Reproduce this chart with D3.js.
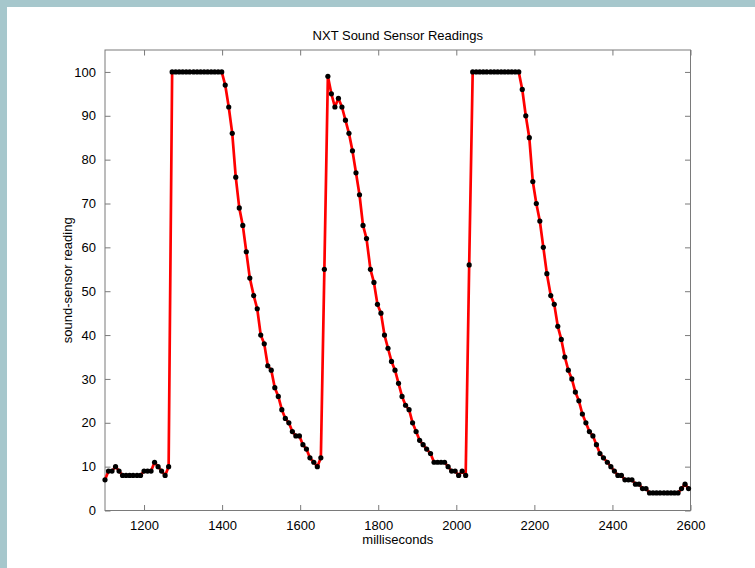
<!DOCTYPE html>
<html>
<head>
<meta charset="utf-8">
<script src="https://cdn.jsdelivr.net/npm/d3@7"></script>
<style>
  html, body { margin: 0; padding: 0; background: #a6c7cc; }
  svg { display: block; }
  text { font-family: "Liberation Sans", Arial, sans-serif; fill: #000; }
</style>
</head>
<body>
<div id="chart"></div>
<script>
// sample times (ms)
var times = [
  1100, 1109, 1118, 1127, 1136, 1145, 1154, 1163, 1172, 1182,
  1191, 1200, 1209, 1218, 1227, 1236, 1245, 1254, 1263, 1272,
  1281, 1290, 1299, 1308, 1317, 1327, 1336, 1345, 1354, 1363,
  1372, 1381, 1390, 1399, 1408, 1417, 1426, 1435, 1444, 1453,
  1462, 1471, 1481, 1490, 1499, 1508, 1517, 1526, 1535, 1544,
  1553, 1562, 1571, 1580, 1589, 1598, 1607, 1616, 1625, 1635,
  1644, 1653, 1662, 1671, 1680, 1689, 1698, 1707, 1716, 1725,
  1734, 1743, 1752, 1761, 1770, 1780, 1789, 1798, 1807, 1816,
  1825, 1834, 1843, 1852, 1861, 1870, 1879, 1888, 1897, 1906,
  1915, 1924, 1934, 1943, 1952, 1961, 1970, 1979, 1988, 1997,
  2006, 2015, 2024, 2033, 2042, 2051, 2060, 2069, 2078, 2088,
  2097, 2106, 2115, 2124, 2133, 2142, 2151, 2160, 2169, 2178,
  2187, 2196, 2205, 2214, 2223, 2232, 2242, 2251, 2260, 2269,
  2278, 2287, 2296, 2305, 2314, 2323, 2332, 2341, 2350, 2359,
  2368, 2377, 2387, 2396, 2405, 2414, 2423, 2432, 2441, 2450,
  2459, 2468, 2477, 2486, 2495, 2504, 2513, 2522, 2532, 2541,
  2550, 2559, 2568, 2577, 2586, 2595
];

// sound sensor readings
var readings = [
  7, 9, 9, 10, 9, 8, 8, 8, 8, 8, 8, 9, 9, 9, 11, 10, 9, 8, 10,
  100, 100, 100, 100, 100, 100, 100, 100, 100, 100, 100, 100, 100, 100, 100,
  97, 92, 86, 76, 69, 65, 59, 53, 49, 46, 40, 38, 33, 32, 28, 26, 23, 21, 20,
  18, 17, 17, 15, 14, 12, 11, 10, 12,
  55, 99, 95, 92, 94, 92, 89, 86, 82, 77, 72, 65, 62, 55, 52, 47, 45, 40, 37,
  34, 32, 29, 26, 24, 23, 20, 18, 16, 15, 14, 13, 11, 11, 11, 11, 10, 9, 9, 8, 9, 8,
  56,
  100, 100, 100, 100, 100, 100, 100, 100, 100, 100, 100, 100, 100, 100,
  96, 90, 85, 75, 70, 66, 60, 54, 49, 47, 42, 39, 35, 32, 30, 27, 25,
  22, 20, 18, 17, 15, 13, 12, 11, 10, 9, 8, 8, 7, 7, 7, 6, 6, 5, 5,
  4, 4, 4, 4, 4, 4, 4, 4, 4, 5, 6, 5
];

var xTicks = [1200, 1400, 1600, 1800, 2000, 2200, 2400, 2600];
var yTicks = [0, 10, 20, 30, 40, 50, 60, 70, 80, 90, 100];
var xDomain = [1100, 2600];
var yDomain = [0, 105];

var title = "NXT Sound Sensor Readings";
var xLabel = "milliseconds";
var yLabel = "sound-sensor reading";

var attrs = {
  width: 755,
  height: 568,
  frame: { left: 105, right: 690.5, top: 50, bottom: 510.5 },
  tickSize: 5.5,
  axisColor: '#7a7a7a',
  lineColor: '#ff0000',
  dotColor: '#000'
};

var data = times.map(function (t, i) { return { t: t, v: readings[i] }; });

var svg = d3.select('#chart').append('svg')
  .attr('width', attrs.width)
  .attr('height', attrs.height);

// white page with blue band at top / left
svg.append('rect')
  .attr('x', 7)
  .attr('y', 7)
  .attr('width', attrs.width - 7)
  .attr('height', attrs.height - 7)
  .attr('fill', '#fff');

var f = attrs.frame;

var x = d3.scaleLinear().domain(xDomain).range([f.left, f.right]);
var y = d3.scaleLinear().domain(yDomain).range([f.bottom, f.top]);
var fmt = d3.format('d');

// axes (inward ticks, box on)
var axisG = svg.append('g').attr('class', 'axes');

function styleAxis(g) {
  g.selectAll('.domain').remove();
  g.selectAll('.tick line').attr('stroke', attrs.axisColor);
  g.selectAll('.tick text')
    .attr('font-size', 13)
    .attr('fill', '#000');
}

axisG.append('g')
  .attr('transform', 'translate(0,' + f.bottom + ')')
  .call(d3.axisBottom(x).tickValues(xTicks).tickFormat(fmt).tickSizeInner(-attrs.tickSize).tickSizeOuter(0).tickPadding(10))
  .call(styleAxis);

axisG.append('g')
  .attr('transform', 'translate(0,' + f.top + ')')
  .call(d3.axisTop(x).tickValues(xTicks).tickSizeInner(-attrs.tickSize).tickSizeOuter(0).tickFormat(''))
  .call(styleAxis);

axisG.append('g')
  .attr('transform', 'translate(' + f.left + ',0)')
  .call(d3.axisLeft(y).tickValues(yTicks).tickFormat(fmt).tickSizeInner(-attrs.tickSize).tickSizeOuter(0).tickPadding(9))
  .call(styleAxis);

axisG.append('g')
  .attr('transform', 'translate(' + f.right + ',0)')
  .call(d3.axisRight(y).tickValues(yTicks).tickSizeInner(-attrs.tickSize).tickSizeOuter(0).tickFormat(''))
  .call(styleAxis);

svg.append('rect')
  .attr('x', f.left)
  .attr('y', f.top)
  .attr('width', f.right - f.left)
  .attr('height', f.bottom - f.top)
  .attr('fill', 'none')
  .attr('stroke', attrs.axisColor)
  .attr('stroke-width', 1);

// data line + markers
var line = d3.line()
  .x(function (d) { return x(d.t); })
  .y(function (d) { return y(d.v); });

svg.append('path')
  .datum(data)
  .attr('d', line)
  .attr('fill', 'none')
  .attr('stroke', attrs.lineColor)
  .attr('stroke-width', 2.7)
  .attr('stroke-linejoin', 'round');

svg.append('g')
  .selectAll('circle')
  .data(data)
  .join('circle')
  .attr('cx', function (d) { return x(d.t); })
  .attr('cy', function (d) { return y(d.v); })
  .attr('r', 2.6)
  .attr('fill', attrs.dotColor);

// labels
svg.append('text')
  .attr('x', (f.left + f.right) / 2)
  .attr('y', 39.5)
  .attr('text-anchor', 'middle')
  .attr('font-size', 13)
  .text(title);

svg.append('text')
  .attr('x', (f.left + f.right) / 2)
  .attr('y', 544)
  .attr('text-anchor', 'middle')
  .attr('font-size', 13)
  .text(xLabel);

svg.append('text')
  .attr('transform', 'translate(72,' + ((f.top + f.bottom) / 2) + ') rotate(-90)')
  .attr('text-anchor', 'middle')
  .attr('font-size', 13)
  .text(yLabel);
</script>
</body>
</html>
